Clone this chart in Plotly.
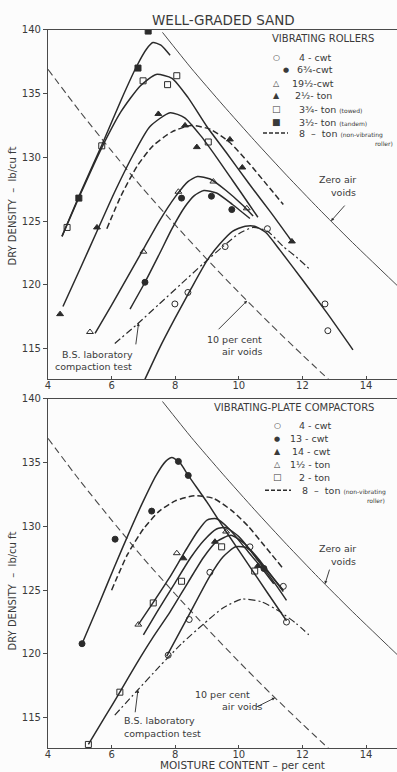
import numpy as np
import plotly.graph_objects as go

W, H = 397, 772
LEFT = 48
PLOT_W = W - LEFT
INK = "#2b2b2b"
TXT = "#3a3a3a"
FONT = "DejaVu Sans"

# ---------------------------------------------------------------- reference lines
# zero air voids and 10 per cent air voids (moisture %, dry density lb/cu ft)
zav_m = [7.6, 8.5, 9.5, 10.5, 11.5, 12.5, 13.5, 15.0]
zav_d = [139.8, 137.0, 134.1, 131.3, 128.6, 126.0, 123.5, 119.9]
av10_m = [4.0, 5.0, 6.0, 7.0, 8.0, 9.0, 10.0, 11.0, 12.0, 12.9]
av10_d = [136.9, 133.6, 130.5, 127.5, 124.7, 122.0, 119.4, 116.9, 114.5, 112.4]

# ---------------------------------------------------------------- vibrating rollers
r_tandem_m = [4.44, 5.0, 5.7, 6.3, 6.8, 7.1, 7.3, 7.55, 7.84]
r_tandem_d = [123.8, 127.1, 131.0, 134.5, 137.2, 138.5, 139.0, 138.8, 138.0]
r_tandem_pm = [4.97, 6.83, 7.15]
r_tandem_pd = [126.8, 137.0, 139.9]

r_towed_m = [4.44, 5.0, 5.7, 6.3, 6.9, 7.4, 7.9, 8.4, 9.0, 9.6, 10.3, 11.0, 11.67]
r_towed_d = [123.8, 127.0, 130.8, 133.6, 135.6, 136.5, 136.2, 134.7, 132.4, 130.4, 128.0, 125.7, 123.4]
r_towed_pm = [4.6, 5.69, 6.99, 7.76, 8.05, 9.04]
r_towed_pd = [124.5, 130.9, 136.0, 135.7, 136.4, 131.2]

r_25t_m = [4.47, 5.0, 5.54, 6.1, 6.7, 7.2, 7.84, 8.3, 8.8, 9.3, 9.8, 10.3, 10.6]
r_25t_d = [118.3, 121.2, 124.2, 127.3, 130.3, 132.4, 133.5, 133.1, 131.7, 130.0, 128.2, 126.4, 125.3]
r_25t_pm = [4.38, 5.54, 7.47, 8.31, 8.68, 9.72, 10.11, 11.67]
r_25t_pd = [117.7, 124.5, 133.4, 132.5, 130.8, 131.4, 129.2, 123.4]

r_195c_m = [5.48, 6.0, 6.5, 7.0, 7.5, 8.0, 8.4, 8.7, 9.1, 9.6, 10.1, 10.45]
r_195c_d = [116.2, 118.4, 120.6, 122.8, 125.0, 126.9, 128.1, 128.5, 128.3, 127.4, 126.3, 125.4]
r_195c_pm = [5.32, 7.0, 8.1, 9.2, 10.25]
r_195c_pd = [116.3, 122.6, 127.3, 128.1, 126.0]

r_675c_m = [6.58, 7.05, 7.5, 7.9, 8.3, 8.6, 8.9, 9.3, 9.8, 10.35]
r_675c_d = [118.1, 120.2, 122.4, 124.4, 126.1, 127.0, 127.4, 127.2, 126.3, 125.2]
r_675c_pm = [7.05, 8.2, 9.14, 9.78]
r_675c_pd = [120.2, 126.8, 126.95, 125.9]

r_4c_m = [7.05, 7.5, 8.0, 8.5, 9.0, 9.4, 9.8, 10.2, 10.5, 10.85, 11.3, 12.0, 12.8, 13.59]
r_4c_d = [112.6, 115.0, 117.4, 119.7, 121.9, 123.2, 124.2, 124.6, 124.6, 124.1, 122.7, 120.4, 117.7, 114.9]
r_4c_pm = [7.99, 8.4, 9.57, 10.9, 12.71, 12.8]
r_4c_pd = [118.5, 119.4, 123.0, 124.4, 118.5, 116.4]

r_8t_m = [5.85, 6.3, 6.8, 7.3, 7.9, 8.5, 9.1, 9.7, 10.3, 10.9, 11.4]
r_8t_d = [124.4, 127.0, 129.3, 130.9, 132.0, 132.5, 132.2, 131.2, 129.6, 127.8, 126.3]

r_bs_m = [6.1, 6.8, 7.5, 8.2, 8.9, 9.5, 10.0, 10.45, 10.9, 11.4, 11.8, 12.24]
r_bs_d = [115.4, 116.9, 118.5, 120.1, 121.7, 123.0, 124.0, 124.5, 124.2, 123.0, 122.2, 121.2]

# ---------------------------------------------------------------- vibrating-plate compactors
p_13c_m = [5.07, 5.6, 6.1, 6.6, 7.0, 7.4, 7.7, 7.9, 8.15, 8.41, 9.0, 9.6, 10.25, 10.9, 11.5]
p_13c_d = [120.8, 123.9, 126.9, 129.8, 132.0, 134.0, 135.1, 135.4, 135.0, 134.0, 131.9, 129.6, 127.2, 124.8, 122.6]
p_13c_pm = [5.07, 6.11, 7.26, 8.1, 8.41, 10.79]
p_13c_pd = [120.8, 129.0, 131.2, 135.1, 134.0, 126.7]

p_15t_m = [6.84, 7.3, 7.8, 8.3, 8.7, 9.0, 9.3, 9.7, 10.2, 10.7, 11.1]
p_15t_d = [122.3, 124.0, 125.9, 128.0, 129.6, 130.5, 130.6, 129.8, 128.3, 126.8, 125.5]
p_15t_pm = [6.84, 8.05, 9.6]
p_15t_pd = [122.3, 127.9, 129.6]

p_14c_m = [7.0, 7.43, 8.0, 8.5, 8.9, 9.3, 9.6, 10.0, 10.5, 11.0, 11.4]
p_14c_d = [121.5, 123.3, 125.6, 127.6, 128.9, 129.8, 129.9, 129.2, 127.7, 126.2, 125.0]
p_14c_pm = [8.26, 9.25, 10.6]
p_14c_pd = [127.5, 128.8, 126.9]

p_2t_m = [5.27, 5.8, 6.26, 6.8, 7.3, 7.84, 8.4, 8.9, 9.3, 9.75, 10.2, 10.7, 11.2, 11.5]
p_2t_d = [112.9, 115.1, 117.0, 119.3, 121.3, 123.3, 125.6, 127.6, 128.8, 129.3, 128.6, 127.0, 125.3, 124.2]
p_2t_pm = [5.27, 6.26, 7.31, 8.2, 9.46, 10.5]
p_2t_pd = [112.9, 117.0, 124.0, 125.7, 128.4, 126.5]

p_4c_m = [7.73, 8.4, 9.09, 9.5, 9.9, 10.3, 10.7, 11.1, 11.4]
p_4c_d = [119.8, 122.9, 126.1, 127.6, 128.4, 128.3, 127.2, 125.9, 124.9]
p_4c_pm = [7.78, 8.44, 9.09, 10.35, 11.4, 11.5]
p_4c_pd = [119.9, 122.7, 126.4, 128.4, 125.3, 122.5]

p_8t_m = [6.0, 6.5, 7.0, 7.5, 8.0, 8.6, 9.2, 9.8, 10.3, 10.8, 11.36]
p_8t_d = [125.0, 127.8, 129.8, 131.2, 132.0, 132.4, 132.2, 131.2, 130.0, 128.5, 126.8]

p_bs_m = [6.1, 6.76, 7.5, 8.2, 8.87, 9.5, 10.1, 10.7, 11.3, 11.8, 12.2]
p_bs_d = [115.2, 117.0, 119.0, 120.8, 122.3, 123.6, 124.3, 124.1, 123.3, 122.4, 121.5]

x_ticks = [4, 6, 8, 10, 12, 14]
y_ticks = [115, 120, 125, 130, 135, 140]

# ---------------------------------------------------------------- helpers
def pxx(px):
    return (px - LEFT) / PLOT_W


def pxy(py):
    return 1 - py / H


fig = go.Figure()


def curve(m, d, panel, dash="solid", width=1.5, color=INK):
    xa, ya = ("x", "y") if panel == 1 else ("x2", "y2")
    fig.add_trace(go.Scatter(
        x=m, y=d, mode="lines", xaxis=xa, yaxis=ya, showlegend=False, hoverinfo="skip",
        line=dict(color=color, width=width, dash=dash, shape="spline", smoothing=0.6)))


def points(m, d, panel, symbol):
    xa, ya = ("x", "y") if panel == 1 else ("x2", "y2")
    fig.add_trace(go.Scatter(
        x=m, y=d, mode="markers", xaxis=xa, yaxis=ya, showlegend=False, hoverinfo="skip",
        marker=dict(symbol=symbol, size=6, color=INK, line=dict(color=INK, width=1))))


AV_DASH = "7px,4px"
ROLLER_DASH = "6px,3px"
BS_DASH = "7px,3px,2px,3px"

for panel in (1, 2):
    curve(zav_m, zav_d, panel, width=1.0, color="#4a4a4a")
    curve(av10_m, av10_d, panel, dash=AV_DASH, width=1.1, color="#4a4a4a")

# rollers
curve(r_tandem_m, r_tandem_d, 1)
curve(r_towed_m, r_towed_d, 1)
curve(r_25t_m, r_25t_d, 1)
curve(r_195c_m, r_195c_d, 1)
curve(r_675c_m, r_675c_d, 1)
curve(r_4c_m, r_4c_d, 1)
curve(r_8t_m, r_8t_d, 1, dash=ROLLER_DASH)
curve(r_bs_m, r_bs_d, 1, dash=BS_DASH, width=1.2)
points(r_tandem_pm, r_tandem_pd, 1, "square")
points(r_towed_pm, r_towed_pd, 1, "square-open")
points(r_25t_pm, r_25t_pd, 1, "triangle-up")
points(r_195c_pm, r_195c_pd, 1, "triangle-up-open")
points(r_675c_pm, r_675c_pd, 1, "circle")
points(r_4c_pm, r_4c_pd, 1, "circle-open")

# plate compactors
curve(p_13c_m, p_13c_d, 2)
curve(p_15t_m, p_15t_d, 2)
curve(p_14c_m, p_14c_d, 2)
curve(p_2t_m, p_2t_d, 2)
curve(p_4c_m, p_4c_d, 2)
curve(p_8t_m, p_8t_d, 2, dash=ROLLER_DASH)
curve(p_bs_m, p_bs_d, 2, dash=BS_DASH, width=1.2)
points(p_13c_pm, p_13c_pd, 2, "circle")
points(p_15t_pm, p_15t_pd, 2, "triangle-up-open")
points(p_14c_pm, p_14c_pd, 2, "triangle-up")
points(p_2t_pm, p_2t_pd, 2, "square-open")
points(p_4c_pm, p_4c_pd, 2, "circle-open")

# ---------------------------------------------------------------- axes
X_RANGE = [4, 4 + PLOT_W / 31.8]
Y_RANGE = [140 - 352 / 12.85, 140]

axis_common = dict(showgrid=False, zeroline=False, showline=True, linecolor="#4a4a4a",
                   linewidth=1.2, tickcolor="#4a4a4a",
                   tickfont=dict(family=FONT, size=10, color=TXT))
x_axis = dict(axis_common, range=X_RANGE, tickvals=x_ticks, mirror=True, domain=[0, 1],
              ticks="inside", ticklen=3, ticklabelstandoff=-3)
y_axis = dict(axis_common, range=Y_RANGE, tickvals=y_ticks, ticks="outside", ticklen=4)

fig.update_layout(
    width=W, height=H,
    margin=dict(l=LEFT, r=0, t=0, b=0),
    paper_bgcolor="#fcfcfc", plot_bgcolor="#fcfcfc",
    showlegend=False,
    xaxis=dict(x_axis, anchor="y"),
    yaxis=dict(y_axis, anchor="x", domain=[pxy(376), pxy(24)]),
    xaxis2=dict(x_axis, anchor="y2"),
    yaxis2=dict(y_axis, anchor="x2", domain=[pxy(748), pxy(396)]),
)

# ---------------------------------------------------------------- text
ann = []


def text(px, py, s, size=9.5, anchor="left", **kw):
    ann.append(dict(x=pxx(px), y=pxy(py), xref="paper", yref="paper", text=s, showarrow=False,
                    xanchor=anchor, yanchor="middle",
                    font=dict(family=FONT, size=size, color=TXT), **kw))


def small(s):
    return f"<span style='font-size:6px'>{s}</span>"


text(223, 14, "WELL-GRADED SAND", size=13.5, anchor="center")
text(12, 202, "DRY DENSITY  –  lb/cu ft", size=10, anchor="center", textangle=-90)
text(12, 590, "DRY DENSITY  –  lb/cu ft", size=10, anchor="center", textangle=-90)
text(242, 765, "MOISTURE CONTENT – per cent", size=10.5, anchor="center")

# legend: vibrating rollers
text(323, 33, "VIBRATING ROLLERS", size=10, anchor="center")
text(276, 52, "○", size=8, anchor="center")
text(297, 52, "4 - cwt")
text(286, 64, "●", size=7, anchor="center")
text(295, 64, "6¾-cwt")
text(276, 78, "△", size=8, anchor="center")
text(290, 78, "19½-cwt")
text(276, 90, "▲", size=8, anchor="center")
text(293, 90, "2½- ton")
text(276, 104, "□", size=9, anchor="center")
text(297, 104, "3¾- ton " + small("(towed)"))
text(276, 117, "■", size=9, anchor="center")
text(297, 117, "3½- ton " + small("(tandem)"))
text(297, 128, "8  –  ton " + small("(non-vibrating"))
text(395, 139, small("roller)"), anchor="right")

# legend: vibrating-plate compactors
text(294, 405, "VIBRATING-PLATE COMPACTORS", size=10, anchor="center")
text(277, 423, "○", size=8, anchor="center")
text(297, 423, "4 - cwt")
text(277, 436, "●", size=7, anchor="center")
text(288, 436, "13 - cwt")
text(277, 449, "▲", size=8, anchor="center")
text(290, 449, "14 - cwt")
text(277, 462, "△", size=8, anchor="center")
text(288, 462, "1½ - ton")
text(277, 475, "□", size=9, anchor="center")
text(297, 475, "2 - ton")
text(300, 488, "8  –  ton " + small("(non-vibrating"))
text(387, 498, small("roller)"), anchor="right")

# curve labels
for y0 in (0, 372):
    text(358, 175 + y0, "Zero air", anchor="right")
    text(358, 188 + y0, "voids", anchor="right")
text(205, 336, "10 per cent")
text(220, 348, "air voids")
text(60, 351, "B.S. laboratory")
text(53, 363, "compaction test")
text(193, 694, "10 per cent")
text(220, 706, "air voids")
text(122, 720, "B.S. laboratory")
text(122, 733, "compaction test")


def leader(m, line_m, line_d, panel, ax, ay):
    d = float(np.interp(m, line_m, line_d))
    ann.append(dict(x=m, y=d, xref="x" if panel == 1 else "x2", yref="y" if panel == 1 else "y2",
                    ax=ax, ay=ay, showarrow=True, arrowhead=2, arrowsize=0.7, arrowwidth=0.9,
                    arrowcolor=INK, text=""))


leader(12.9, zav_m, zav_d, 1, 15, -17)
leader(10.26, av10_m, av10_d, 1, -30, 30)
leader(6.85, r_bs_m, r_bs_d, 1, -3, 23)
leader(12.71, zav_m, zav_d, 2, 5, -16)
leader(11.14, av10_m, av10_d, 2, -20, 10)
leader(6.83, p_bs_m, p_bs_d, 2, -3, 24)

fig.update_layout(annotations=ann)

# dashed keys for the 8-ton roller in both legends
fig.update_layout(shapes=[
    dict(type="line", xref="paper", yref="paper", x0=pxx(263), x1=pxx(288), y0=pxy(128), y1=pxy(128),
         line=dict(color=INK, width=1.4, dash="4px,2px")),
    dict(type="line", xref="paper", yref="paper", x0=pxx(265), x1=pxx(291), y0=pxy(488), y1=pxy(488),
         line=dict(color=INK, width=1.4, dash="4px,2px")),
])

fig.write_html("out.html")
